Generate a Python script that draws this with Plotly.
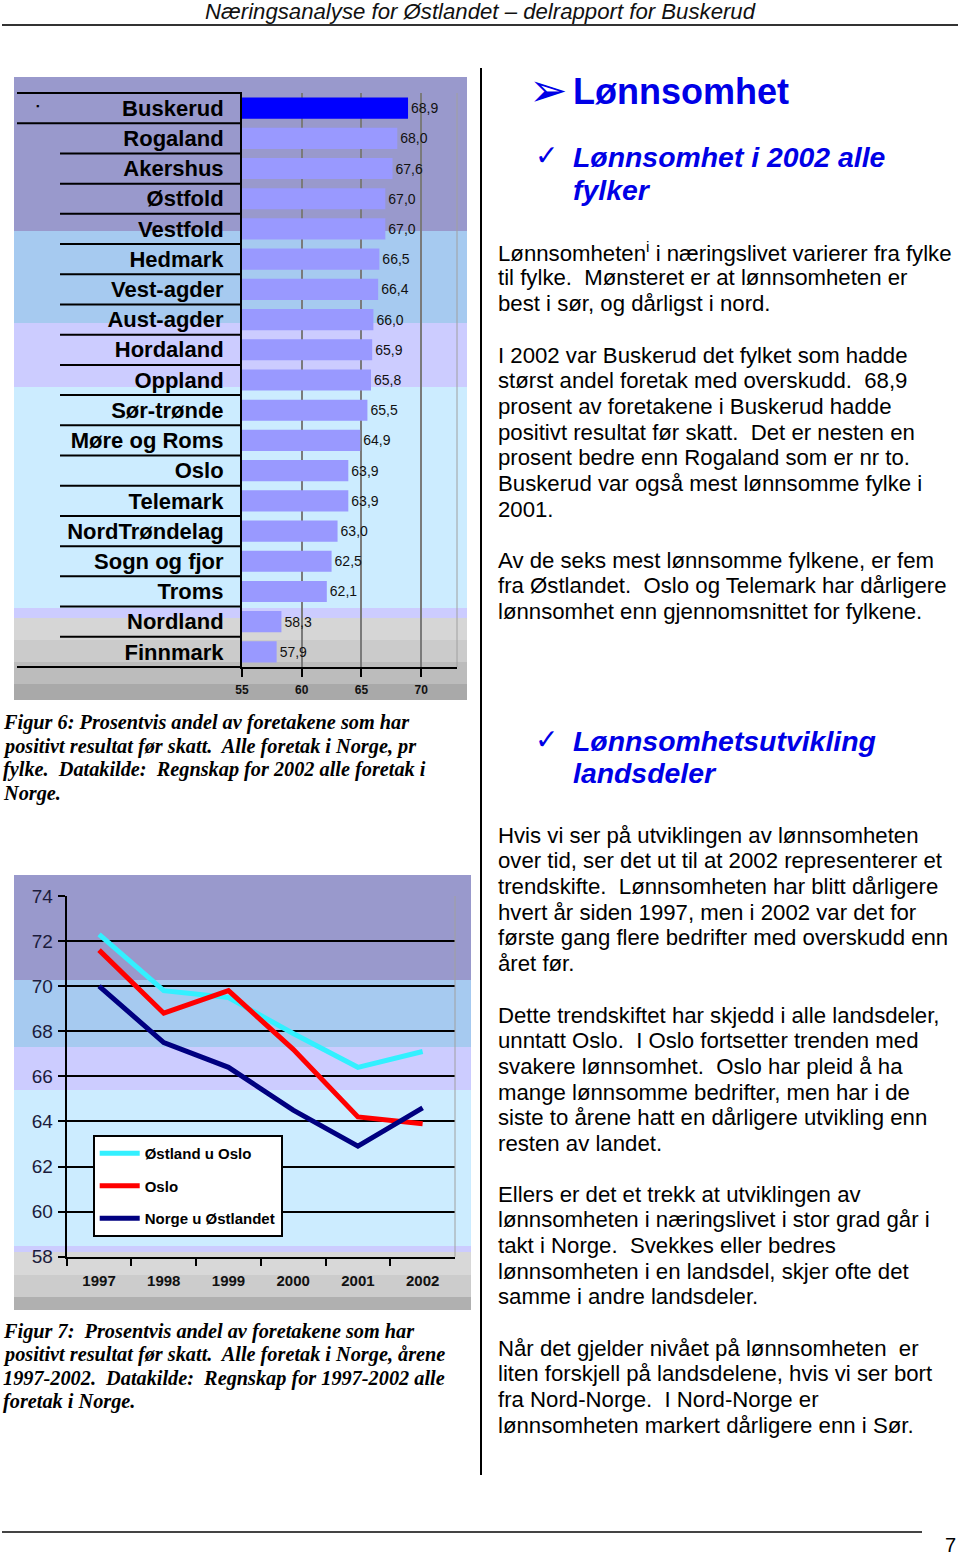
import plotly.graph_objects as go

W, H = 960, 1556

# ---------------- data ----------------
counties = ["Buskerud", "Rogaland", "Akershus", "Østfold", "Vestfold", "Hedmark",
            "Vest-agder", "Aust-agder", "Hordaland", "Oppland", "Sør-trønde",
            "Møre og Roms", "Oslo", "Telemark", "NordTrøndelag", "Sogn og fjor",
            "Troms", "Nordland", "Finnmark"]
share_2002 = [68.9, 68.0, 67.6, 67.0, 67.0, 66.5, 66.4, 66.0, 65.9, 65.8, 65.5,
              64.9, 63.9, 63.9, 63.0, 62.5, 62.1, 58.3, 57.9]
highlight = "Buskerud"
bar_ticks = [55, 60, 65, 70]

years = ["1997", "1998", "1999", "2000", "2001", "2002"]
ostland_u_oslo = [72.3, 69.8, 69.5, 67.9, 66.4, 67.1]
oslo = [71.6, 68.8, 69.8, 67.2, 64.2, 63.9]
norge_u_ostlandet = [70.0, 67.5, 66.4, 64.5, 62.9, 64.6]
series_names = ["Østland u Oslo", "Oslo", "Norge u Østlandet"]
line_ticks = [58, 60, 62, 64, 66, 68, 70, 72, 74]


def px(x):
    return x / W


def py(y):
    return 1 - y / H


BLUE = "#0000e6"
SANS = "Liberation Sans"
SERIF = "Liberation Serif"

fig = go.Figure()

# ---------------- bar chart ----------------
fig.add_trace(go.Bar(
    x=share_2002, y=counties, orientation="h",
    marker=dict(color=["#0000ff" if c == highlight else "#9999ff" for c in counties],
                line=dict(width=0)),
    width=0.7,
    text=[f"{v:.1f}".replace(".", ",") for v in share_2002],
    textposition="outside", constraintext="none",
    textfont=dict(family=SANS, size=14, color="#111"),
    xaxis="x", yaxis="y", showlegend=False, hoverinfo="skip",
))

# ---------------- line chart ----------------
line_colors = ["#33f0ff", "#ff0000", "#000080"]
for name, vals, col in zip(series_names, [ostland_u_oslo, oslo, norge_u_ostlandet], line_colors):
    fig.add_trace(go.Scatter(
        x=years, y=vals, mode="lines", name=name, legendgroup=name,
        line=dict(color=col, width=5), xaxis="x2", yaxis="y2",
    ))

shapes = []


def band(x0, x1, y0, y1, color):
    shapes.append(dict(type="rect", xref="paper", yref="paper", layer="below",
                       x0=px(x0), x1=px(x1), y0=py(y1), y1=py(y0),
                       fillcolor=color, line=dict(width=0)))


# bar chart background bands
for y0, y1, c in [(77, 231, "#9999cc"), (231, 323, "#a6caf0"), (323, 387, "#ccccff"),
                  (387, 608, "#ccecff"), (608, 618, "#ccccff"), (618, 640, "#d6d6d6"),
                  (640, 662, "#cbcbcb"), (662, 684, "#bcbcbc"), (684, 700, "#a9a9a9")]:
    band(14, 467, y0, y1, c)

# line chart background bands
for y0, y1, c in [(875, 980, "#9999cc"), (980, 1047, "#a6caf0"), (1047, 1090, "#ccccff"),
                  (1090, 1246, "#ccecff"), (1246, 1252, "#ccccff"), (1252, 1275, "#d8d8d8"),
                  (1275, 1297, "#cccccc"), (1297, 1310, "#b0b0b0")]:
    band(14, 471, y0, y1, c)

# row separators in bar chart label area
n = len(counties)
for k in range(n + 1):
    x0 = 17 if k in (0, 1, n) else 60
    shapes.append(dict(type="line", xref="paper", yref="y domain", layer="below",
                       x0=px(x0), x1=px(242), y0=1 - k / n, y1=1 - k / n,
                       line=dict(color="black", width=2)))

# plot area right borders
shapes.append(dict(type="line", xref="x domain", yref="y domain", x0=1, x1=1, y0=0, y1=1,
                   line=dict(color="#a0a0a0", width=1)))
shapes.append(dict(type="line", xref="x2 domain", yref="y2 domain", x0=1, x1=1, y0=0, y1=1,
                   line=dict(color="#a0a0a0", width=1)))

# page rules
shapes.append(dict(type="line", xref="paper", yref="paper", x0=px(2), x1=px(958),
                   y0=py(25), y1=py(25), line=dict(color="#333", width=2)))
shapes.append(dict(type="line", xref="paper", yref="paper", x0=px(2), x1=px(922),
                   y0=py(1532), y1=py(1532), line=dict(color="#444", width=2)))
shapes.append(dict(type="line", xref="paper", yref="paper", x0=px(481), x1=px(481),
                   y0=py(68), y1=py(1475), line=dict(color="black", width=2)))

ann = []


def text(x, y, t, size, family=SANS, color="black", xanchor="left"):
    ann.append(dict(x=px(x), y=py(y), xref="paper", yref="paper", text=t, showarrow=False,
                    xanchor=xanchor, yanchor="middle", align="left",
                    font=dict(family=family, size=size, color=color)))


NB = "\u00a0 "

# header / footer
text(480, 12, "<i>Næringsanalyse for Østlandet – delrapport for Buskerud</i>", 22.2,
     color="#111", xanchor="center")
text(950, 1545, "7", 20, xanchor="center")

# small marker before Buskerud
text(37, 106, "▪", 9, xanchor="center")

# headings
text(548, 90, "➢", 46, family="DejaVu Sans", color=BLUE, xanchor="center")
text(571, 91, "<b>Lønnsomhet</b>", 36, color=BLUE)
text(546, 155, "✓", 28, family="DejaVu Sans", color=BLUE, xanchor="center")
text(571, 157, "<b><i>Lønnsomhet i 2002 alle</i></b>", 28.4, color=BLUE)
text(571, 190, "<b><i>fylker</i></b>", 28.4, color=BLUE)
text(546, 740, "✓", 28, family="DejaVu Sans", color=BLUE, xanchor="center")
text(571, 741, "<b><i>Lønnsomhetsutvikling</i></b>", 28.4, color=BLUE)
text(571, 773, "<b><i>landsdeler</i></b>", 28.4, color=BLUE)

BODY = 22.2
STEP = 25.67
paras = [
    (252, ["Lønnsomheten<sup>i</sup> i næringslivet varierer fra fylke",
           "til fylke." + NB + "Mønsteret er at lønnsomheten er",
           "best i sør, og dårligst i nord."]),
    (355, ["I 2002 var Buskerud det fylket som hadde",
           "størst andel foretak med overskudd." + NB + "68,9",
           "prosent av foretakene i Buskerud hadde",
           "positivt resultat før skatt." + NB + "Det er nesten en",
           "prosent bedre enn Rogaland som er nr to.",
           "Buskerud var også mest lønnsomme fylke i",
           "2001."]),
    (560, ["Av de seks mest lønnsomme fylkene, er fem",
           "fra Østlandet." + NB + "Oslo og Telemark har dårligere",
           "lønnsomhet enn gjennomsnittet for fylkene."]),
    (835, ["Hvis vi ser på utviklingen av lønnsomheten",
           "over tid, ser det ut til at 2002 representerer et",
           "trendskifte." + NB + "Lønnsomheten har blitt dårligere",
           "hvert år siden 1997, men i 2002 var det for",
           "første gang flere bedrifter med overskudd enn",
           "året før."]),
    (1015, ["Dette trendskiftet har skjedd i alle landsdeler,",
            "unntatt Oslo." + NB + "I Oslo fortsetter trenden med",
            "svakere lønnsomhet." + NB + "Oslo har pleid å ha",
            "mange lønnsomme bedrifter, men har i de",
            "siste to årene hatt en dårligere utvikling enn",
            "resten av landet."]),
    (1194, ["Ellers er det et trekk at utviklingen av",
            "lønnsomheten i næringslivet i stor grad går i",
            "takt i Norge." + NB + "Svekkes eller bedres",
            "lønnsomheten i en landsdel, skjer ofte det",
            "samme i andre landsdeler."]),
    (1348.3, ["Når det gjelder nivået på lønnsomheten" + NB + "er",
              "liten forskjell på landsdelene, hvis vi ser bort",
              "fra Nord-Norge." + NB + "I Nord-Norge er",
              "lønnsomheten markert dårligere enn i Sør."]),
]
for y0, lines in paras:
    for i, line in enumerate(lines):
        text(496, y0 + i * STEP, line, BODY)

# captions
CAP = 20.3
cap6 = ["Figur 6: Prosentvis andel av foretakene som har",
        "positivt resultat før skatt." + NB + "Alle foretak i Norge, pr",
        "fylke." + NB + "Datakilde:" + NB + "Regnskap for 2002 alle foretak i",
        "Norge."]
for yy, t in zip([722.5, 746.5, 770, 793.5], cap6):
    text(1, yy, "<b><i>" + t + "</i></b>", CAP, family=SERIF)
cap7 = ["Figur 7:" + NB + "Prosentvis andel av foretakene som har",
        "positivt resultat før skatt." + NB + "Alle foretak i Norge, årene",
        "1997-2002." + NB + "Datakilde:" + NB + "Regnskap for 1997-2002 alle",
        "foretak i Norge."]
for yy, t in zip([1331, 1354.5, 1378, 1401.5], cap7):
    text(1, yy, "<b><i>" + t + "</i></b>", CAP, family=SERIF)

fig.update_layout(
    width=W, height=H, autosize=False,
    margin=dict(l=0, r=0, t=0, b=0, pad=0, autoexpand=False),
    paper_bgcolor="white", plot_bgcolor="#ffffcc",
    shapes=shapes, annotations=ann,
    xaxis=dict(domain=[px(242), px(457)], anchor="y", range=[55, 73], automargin=False,
               tickvals=bar_ticks, ticks="outside", ticklen=8, tickwidth=2, tickcolor="black",
               ticklabelstandoff=3,
               showline=True, linecolor="black", linewidth=2,
               showgrid=True, gridcolor="#7a7a7a", gridwidth=1.5, zeroline=False,
               tickfont=dict(family=SANS, size=12, color="#111", weight="bold")),
    yaxis=dict(domain=[py(667), py(93)], anchor="x", type="category", autorange="reversed",
               automargin=False,
               ticks="outside", ticklen=12, tickcolor="rgba(0,0,0,0)",
               showline=True, linecolor="black", linewidth=2, showgrid=False,
               tickfont=dict(family=SANS, size=22, color="black", weight="bold")),
    xaxis2=dict(domain=[px(66.7), px(455)], anchor="y2", type="category", automargin=False,
                range=[-0.5, len(years) - 0.5],
                tickson="boundaries", ticks="outside", ticklen=7, tickwidth=2, tickcolor="black",
                ticklabelstandoff=9,
                showline=True, linecolor="black", linewidth=2, showgrid=False,
                tickfont=dict(family=SANS, size=15, color="#111", weight="bold")),
    yaxis2=dict(domain=[py(1256.7), py(896)], anchor="x2", range=[58, 74], automargin=False,
                tickvals=line_ticks, ticks="outside", ticklen=7, tickwidth=2, tickcolor="black",
                showline=True, linecolor="black", linewidth=2,
                showgrid=True, gridcolor="black", gridwidth=2, zeroline=False,
                ticklabelstandoff=1,
                tickfont=dict(family=SANS, size=19, color="#1c1c3c")),
    legend=dict(x=px(92.7), y=py(1135), xanchor="left", yanchor="top",
                bgcolor="white", bordercolor="black", borderwidth=2,
                tracegroupgap=10, traceorder="grouped", itemwidth=40,
                font=dict(family=SANS, size=15, color="black", weight="bold")),
    showlegend=True,
)

fig.write_html("out.html")
